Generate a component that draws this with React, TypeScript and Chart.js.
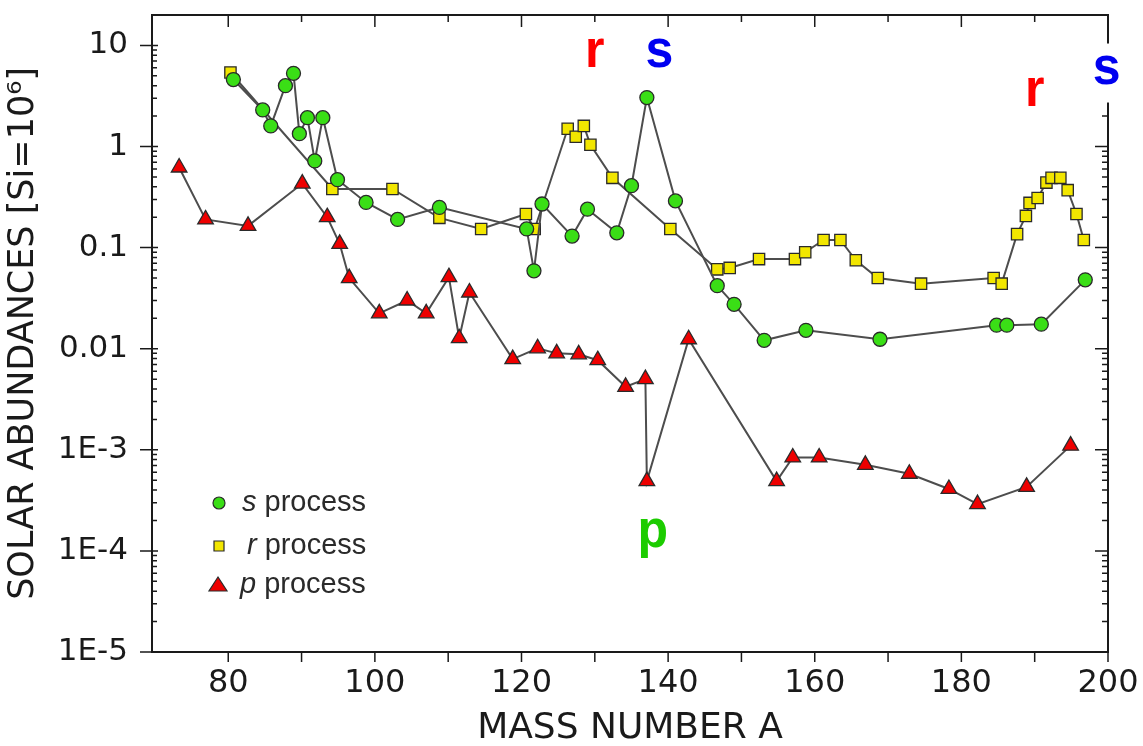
import React, { useEffect, useRef } from 'react';
import { Chart, registerables } from 'chart.js';

Chart.register(...registerables);

// ---- data ----
const sMass = [80.7, 84.7, 85.8, 87.8, 88.9, 89.7, 90.8, 91.8, 92.9, 94.9, 98.8, 103.1, 108.8, 120.7, 121.7, 122.8, 126.9, 129.0, 133.0, 135.0, 137.1, 141.0, 146.7, 149.0, 153.1, 158.8, 168.9, 184.8, 186.2, 190.9, 196.9];
const sAbund = [4.6, 2.3, 1.6, 4.0, 5.3, 1.34, 1.93, 0.72, 1.93, 0.47, 0.28, 0.19, 0.25, 0.153, 0.059, 0.27, 0.13, 0.24, 0.14, 0.41, 3.05, 0.29, 0.042, 0.0275, 0.0121, 0.0152, 0.0124, 0.0171, 0.0171, 0.0175, 0.048];

const rMass = [80.3, 94.2, 102.4, 108.8, 114.5, 120.6, 121.8, 126.3, 127.4, 128.5, 129.4, 132.4, 140.3, 146.7, 148.4, 152.4, 157.3, 158.7, 161.2, 163.5, 165.6, 168.6, 174.5, 184.4, 185.5, 187.6, 188.8, 189.3, 190.4, 191.6, 192.3, 193.5, 194.5, 195.7, 196.7];
const rAbund = [5.4, 0.38, 0.38, 0.197, 0.153, 0.215, 0.153, 1.5, 1.25, 1.6, 1.04, 0.49, 0.153, 0.061, 0.063, 0.077, 0.077, 0.09, 0.119, 0.119, 0.075, 0.05, 0.044, 0.05, 0.044, 0.136, 0.206, 0.277, 0.31, 0.44, 0.49, 0.49, 0.37, 0.215, 0.119];

const pMass = [73.3, 76.9, 82.7, 90.1, 93.5, 95.2, 96.5, 100.6, 104.4, 107.0, 110.1, 111.5, 112.9, 118.8, 122.2, 124.8, 127.8, 130.4, 134.2, 136.9, 137.1, 142.8, 154.8, 157.0, 160.6, 166.9, 172.9, 178.3, 182.2, 188.9, 194.9];
const pAbund = [0.62, 0.19, 0.164, 0.43, 0.2, 0.109, 0.05, 0.0224, 0.03, 0.0224, 0.051, 0.0127, 0.036, 0.0079, 0.0101, 0.009, 0.0088, 0.0077, 0.0042, 0.005, 0.00049, 0.0124, 0.00049, 0.00084, 0.00084, 0.00071, 0.00058, 0.00041, 0.00029, 0.00043, 0.0011];

const seriesNames = ['s', 'r', 'p'];
const seriesSuffix = ' process';

const xTickValues = [80, 100, 120, 140, 160, 180, 200];
const xTickLabels = ['80', '100', '120', '140', '160', '180', '200'];
const yTickValues = [1e-5, 1e-4, 1e-3, 0.01, 0.1, 1, 10];
const yTickLabels = ['1E-5', '1E-4', '1E-3', '0.01', '0.1', '1', '10'];

const xTitle = 'MASS NUMBER A';
const yTitle = 'SOLAR ABUNDANCES [Si=10\u2076]';

// process-letter annotations (data coordinates)
const noteText = ['r', 's', 'r', 's', 'p'];
const noteMass = [130.0, 138.8, 190.0, 199.8, 137.9];
const noteAbund = [6.05, 6.05, 2.54, 4.2, 1.1e-4];
const noteColor = ['#ff0000', '#0000f0', '#ff0000', '#0000f0', '#1ccc00'];

const GREEN = '#3ade16';
const YELLOW = '#f2e600';
const RED = '#ee0000';
const EDGE = '#2a2a2a';
const LINE = '#4d4d4d';

const framePlugin = {
  id: 'frameTicks',
  afterDraw(chart: any) {
    const { ctx, chartArea: a, scales } = chart;
    const xs = scales.x;
    const ys = scales.y;
    ctx.save();
    // frame
    ctx.strokeStyle = '#1a1a1a';
    ctx.lineWidth = 2;
    ctx.strokeRect(a.left, a.top, a.right - a.left, a.bottom - a.top);
    // y ticks (major + minor), both sides
    ctx.lineWidth = 1.5;
    ctx.beginPath();
    for (let e = -5; e <= 1; e++) {
      for (let k = 1; k <= 9; k++) {
        const v = k * Math.pow(10, e);
        if (v > ys.max * 0.999 || v < ys.min * 0.999) continue;
        const py = ys.getPixelForValue(v);
        if (k === 1) {
          ctx.moveTo(a.left - 12, py); ctx.lineTo(a.left + 6, py);
          ctx.moveTo(a.right - 13, py); ctx.lineTo(a.right, py);
        } else {
          ctx.moveTo(a.left, py); ctx.lineTo(a.left + 5, py);
          ctx.moveTo(a.right - 6, py); ctx.lineTo(a.right, py);
        }
      }
    }
    // x ticks
    for (let m = 80; m <= 190; m += 10) {
      const px = xs.getPixelForValue(m);
      const len = m % 20 === 0 ? 12 : 7;
      ctx.moveTo(px, a.top); ctx.lineTo(px, a.top + len);
      ctx.moveTo(px, a.bottom); ctx.lineTo(px, a.bottom + 10);
    }
    ctx.moveTo(a.right, a.bottom); ctx.lineTo(a.right, a.bottom + 10);
    ctx.stroke();

    // legend
    const lx = a.left + 67;
    const rows = [a.top + 488, a.top + 531, a.top + 570];
    ctx.lineWidth = 1.2;
    ctx.strokeStyle = EDGE;
    ctx.fillStyle = GREEN;
    ctx.beginPath(); ctx.arc(lx, rows[0], 6, 0, Math.PI * 2); ctx.fill(); ctx.stroke();
    ctx.fillStyle = YELLOW;
    ctx.beginPath(); ctx.rect(lx - 5, rows[1] - 5, 10, 10); ctx.fill(); ctx.stroke();
    ctx.fillStyle = RED;
    ctx.beginPath();
    ctx.moveTo(lx - 1, rows[2] - 8); ctx.lineTo(lx + 8, rows[2] + 6); ctx.lineTo(lx - 10, rows[2] + 6); ctx.closePath();
    ctx.fill(); ctx.stroke();

    ctx.fillStyle = '#2a2a2a';
    ctx.textBaseline = 'middle';
    ctx.textAlign = 'left';
    const starts = [lx + 23, lx + 28, lx + 21];
    for (let i = 0; i < 3; i++) {
      ctx.font = 'italic 29px "Liberation Sans", Arial, sans-serif';
      ctx.fillText(seriesNames[i], starts[i], rows[i]);
      const w = ctx.measureText(seriesNames[i]).width;
      ctx.font = '29px "Liberation Sans", Arial, sans-serif';
      ctx.fillText(seriesSuffix, starts[i] + w, rows[i]);
    }

    // annotations
    ctx.font = 'bold 50px "Liberation Sans", Arial, sans-serif';
    ctx.textAlign = 'center';
    ctx.textBaseline = 'alphabetic';
    for (let i = 0; i < noteText.length; i++) {
      const px = xs.getPixelForValue(noteMass[i]);
      const py = ys.getPixelForValue(noteAbund[i]);
      if (i === 3) {
        ctx.fillStyle = '#ffffff';
        ctx.fillRect(px - 18, py - 40, 60, 59);
      }
      ctx.fillStyle = noteColor[i];
      ctx.save();
      ctx.translate(px, py);
      ctx.scale(1, 1.08);
      ctx.fillText(noteText[i], 0, 0);
      ctx.restore();
    }
    ctx.restore();
  },
};

function pts(xs: number[], ys: number[]) {
  return xs.map((x, i) => ({ x, y: ys[i] }));
}

export default function App() {
  const ref = useRef<HTMLCanvasElement | null>(null);
  useEffect(() => {
    document.body.style.margin = '0';
    const canvas = ref.current;
    if (!canvas) return;
    const common = {
      showLine: true,
      borderColor: LINE,
      borderWidth: 2,
      pointBorderColor: EDGE,
      pointBorderWidth: 1.3,
      tension: 0,
    };
    const chart = new Chart(canvas, {
      type: 'line',
      data: {
        datasets: [
          { ...common, label: 's process', data: pts(sMass, sAbund), pointStyle: 'circle', pointRadius: 7, pointBackgroundColor: GREEN },
          { ...common, label: 'r process', data: pts(rMass, rAbund), pointStyle: 'rect', pointRadius: 8, pointBackgroundColor: YELLOW },
          { ...common, label: 'p process', data: pts(pMass, pAbund), pointStyle: 'triangle', pointRadius: 9, pointBackgroundColor: RED },
        ],
      },
      options: {
        animation: false,
        responsive: true,
        maintainAspectRatio: false,
        layout: { padding: { left: 0, top: 15, right: 35, bottom: 0 } },
        plugins: { legend: { display: false }, tooltip: { enabled: false } },
        scales: {
          x: {
            type: 'linear',
            min: 69.6,
            max: 200,
            afterBuildTicks: (s: any) => { s.ticks = xTickValues.map((v) => ({ value: v })); },
            afterFit: (s: any) => { s.height = 94; s.paddingLeft = 0; s.paddingRight = 0; s.paddingTop = 0; s.paddingBottom = 0; },
            grid: { display: false, drawTicks: false },
            border: { display: false },
            ticks: {
              padding: 12,
              color: '#1a1a1a',
              font: { family: '"DejaVu Sans", sans-serif', size: 32 },
              maxRotation: 0,
              autoSkip: false,
              callback: (v: any) => { const i = xTickValues.indexOf(Number(v)); return i >= 0 ? xTickLabels[i] : ''; },
            },
            title: {
              display: true,
              text: xTitle,
              color: '#1a1a1a',
              font: { family: '"DejaVu Sans", sans-serif', size: 36, lineHeight: 1 },
              padding: { top: 0, bottom: -1 },
            },
          },
          y: {
            type: 'logarithmic',
            min: 1e-5,
            max: 20,
            afterBuildTicks: (s: any) => { s.ticks = yTickValues.map((v) => ({ value: v })); },
            afterFit: (s: any) => { s.width = 152; s.paddingTop = 0; s.paddingBottom = 0; s.paddingLeft = 0; s.paddingRight = 0; },
            grid: { display: false, drawTicks: false },
            border: { display: false },
            ticks: {
              padding: 24,
              color: '#1a1a1a',
              font: { family: '"DejaVu Sans", sans-serif', size: 31 },
              autoSkip: false,
              callback: (v: any) => {
                const i = yTickValues.findIndex((t) => Math.abs(t - Number(v)) / t < 1e-6);
                return i >= 0 ? yTickLabels[i] : '';
              },
            },
            title: {
              display: true,
              text: yTitle,
              color: '#1a1a1a',
              font: { family: '"DejaVu Sans", sans-serif', size: 35, lineHeight: 1 },
              padding: { top: 6, bottom: 0 },
            },
          },
        },
      },
      plugins: [framePlugin],
    } as any);
    return () => chart.destroy();
  }, []);
  return (
    <div style={{ width: 1143, height: 746, position: 'relative', background: '#ffffff' }}>
      <canvas ref={ref} />
    </div>
  );
}
